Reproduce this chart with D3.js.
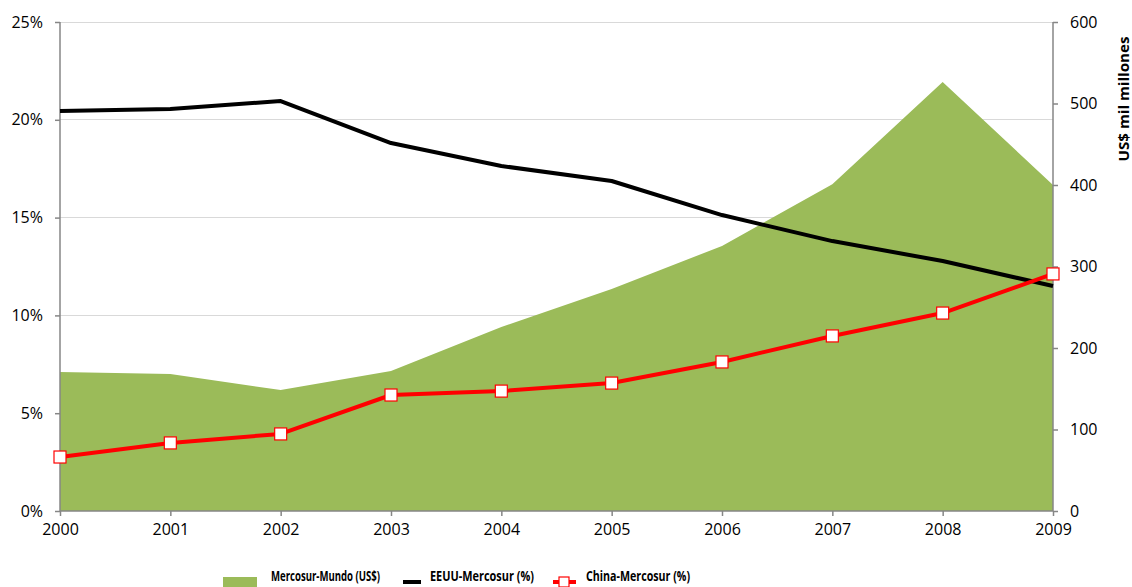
<!DOCTYPE html>
<html><head><meta charset="utf-8">
<script src="https://cdn.jsdelivr.net/npm/d3@7"></script>
<style>body{margin:0;background:#fff}svg{display:block}</style>
</head><body><svg id="c" width="1132" height="587"></svg>
<script>
const years = [2000,2001,2002,2003,2004,2005,2006,2007,2008,2009];
const mercosurMundo = [170.6,168,148.5,171.8,225.8,272.4,325.2,401,526.4,400];
const eeuuMercosur = [20.45,20.55,20.96,18.81,17.64,16.87,15.13,13.8,12.78,11.5];
const chinaMercosur = [2.76,3.48,3.94,5.93,6.13,6.54,7.62,8.95,10.12,12.12];
const leftTicks = [0,5,10,15,20,25];
const rightTicks = [0,100,200,300,400,500,600];
const seriesNames = ["Mercosur-Mundo (US$)","EEUU-Mercosur (%)","China-Mercosur (%)"];

const svg = d3.select("#c");
const L=60,R=1053,T=22,B=511;
const font = "'Open Sans', sans-serif";
const x = d3.scaleLinear().domain([2000,2009]).range([L,R]);
const yL = d3.scaleLinear().domain([0,25]).range([B,T]);
const yR = d3.scaleLinear().domain([0,600]).range([B,T]);

// gridlines
svg.append("g").selectAll("line").data(leftTicks.filter(d=>d>0)).join("line")
  .attr("x1",L).attr("x2",R).attr("y1",d=>yL(d)).attr("y2",d=>yL(d))
  .attr("stroke","#d9d9d9").attr("stroke-width",1).attr("shape-rendering","crispEdges");

// area
svg.append("path").datum(years.map((y,i)=>[y,mercosurMundo[i]]))
  .attr("d", d3.area().x(d=>x(d[0])).y0(B).y1(d=>yR(d[1])))
  .attr("fill","#9bbb59");

// axes
const axL = svg.append("g").attr("transform",`translate(${L},0)`)
  .call(d3.axisLeft(yL).tickValues(leftTicks).tickFormat(d=>d+"%").tickSize(5).tickPadding(12));
const axR = svg.append("g").attr("transform",`translate(${R},0)`)
  .call(d3.axisRight(yR).tickValues(rightTicks).tickSize(5).tickPadding(12));
const axB = svg.append("g").attr("transform",`translate(0,${B})`)
  .call(d3.axisBottom(x).tickValues(years).tickFormat(d3.format("d")).tickSize(5).tickPadding(8));
[axL,axR,axB].forEach(a=>{
  a.selectAll("path.domain").attr("stroke","#868686").attr("stroke-width",1.5);
  a.selectAll(".tick line").attr("stroke","#868686").attr("stroke-width",1.5);
  a.selectAll("text").attr("font-family",font).attr("font-size",16).attr("fill","#000");
});
axL.select("path.domain").attr("d",`M-0,${T}V${B}`);
axR.select("path.domain").attr("d",`M0,${T}V${B}`);
axB.select("path.domain").attr("d",`M${L},0H${R}`);

// right axis title
svg.append("text").attr("transform",`translate(1129,${99}) rotate(-90)`)
  .attr("text-anchor","middle").attr("font-family",font).attr("font-weight","bold")
  .attr("font-size",15).attr("textLength",125).attr("lengthAdjust","spacingAndGlyphs")
  .text("US$ mil millones");

// lines
const line = d3.line().x(d=>x(d[0])).y(d=>yL(d[1]));
svg.append("path").datum(years.map((y,i)=>[y,eeuuMercosur[i]]))
  .attr("d",line).attr("fill","none").attr("stroke","#000").attr("stroke-width",4)
  .attr("stroke-linejoin","round");
svg.append("path").datum(years.map((y,i)=>[y,chinaMercosur[i]]))
  .attr("d",line).attr("fill","none").attr("stroke","#ff0000").attr("stroke-width",4)
  .attr("stroke-linejoin","round");
svg.append("g").selectAll("rect").data(years.map((y,i)=>[y,chinaMercosur[i]])).join("rect")
  .attr("x",d=>x(d[0])-6).attr("y",d=>yL(d[1])-6).attr("width",12).attr("height",12)
  .attr("fill","#fff").attr("stroke","#ff0000").attr("stroke-width",1.2);

// legend
const lg = svg.append("g");
lg.append("rect").attr("x",223).attr("y",577).attr("width",34).attr("height",12).attr("fill","#9bbb59");
lg.append("line").attr("x1",403).attr("x2",421).attr("y1",582).attr("y2",582).attr("stroke","#000").attr("stroke-width",4);
lg.append("line").attr("x1",553).attr("x2",576).attr("y1",582).attr("y2",582).attr("stroke","#ff0000").attr("stroke-width",4);
lg.append("rect").attr("x",559).attr("y",577).attr("width",10).attr("height",10).attr("fill","#fff").attr("stroke","#ff0000").attr("stroke-width",1.2);
const lx=[271,430,586], lw=[109,104,104];
lg.selectAll("text").data(seriesNames).join("text")
  .attr("x",(d,i)=>lx[i]).attr("y",581).attr("font-family",font).attr("font-weight","bold")
  .attr("font-size",14.5).attr("textLength",(d,i)=>lw[i]).attr("lengthAdjust","spacingAndGlyphs")
  .text(d=>d);
</script></body></html>
